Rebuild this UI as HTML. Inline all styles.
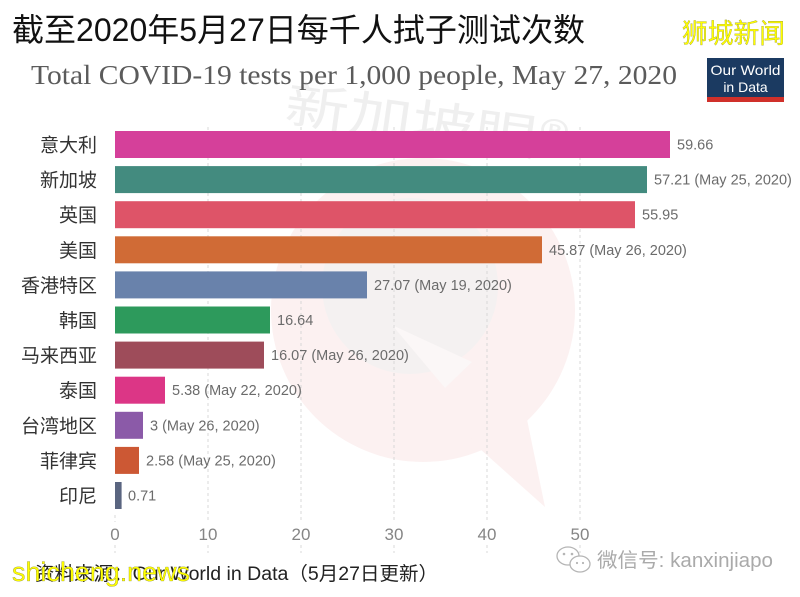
<!DOCTYPE html>
<html><head><meta charset="utf-8"><style>
html,body{margin:0;padding:0;background:#fff;}
svg{display:block;}
</style></head><body>
<svg width="800" height="597" viewBox="0 0 800 597" xmlns="http://www.w3.org/2000/svg">
<rect width="800" height="597" fill="#fff"/>
<!-- watermark -->
<g>
  <circle cx="423" cy="310" r="152" fill="#fcf1f1"/>
  <path d="M470,440 L545,507 L522,395 Z" fill="#fcf1f1"/>
  <circle cx="410" cy="286" r="88" fill="#f4f1f1"/>
  <path d="M392,325 L445,388 L472,362 Z" fill="#fbf7f7"/>
  <text x="285" y="140" font-family="'Noto Sans CJK SC',sans-serif" font-size="50" fill="#efefef" textLength="285" lengthAdjust="spacingAndGlyphs" transform="rotate(8 420 118)">新加坡眼®</text>
</g>
<!-- title -->
<text x="12" y="41" font-family="'Liberation Sans','Noto Sans CJK SC',sans-serif" font-size="32" fill="#111" textLength="573" lengthAdjust="spacingAndGlyphs">截至2020年5月27日每千人拭子测试次数</text>
<text x="682" y="43" font-family="'Noto Sans CJK SC',sans-serif" font-size="27" fill="#ffff00" stroke="#8a8a30" stroke-width="0.3" textLength="103" lengthAdjust="spacingAndGlyphs">狮城新闻</text>
<text x="31" y="84" font-family="'Liberation Serif',serif" font-size="27" fill="#5b5b5b" textLength="646" lengthAdjust="spacingAndGlyphs">Total COVID-19 tests per 1,000 people, May 27, 2020</text>
<!-- OWID logo -->
<rect x="707" y="58" width="77" height="44" fill="#1b3a61"/>
<rect x="707" y="97" width="77" height="5" fill="#d0302a"/>
<text x="745.5" y="75" text-anchor="middle" font-family="'Liberation Sans',sans-serif" font-size="14" fill="#fff" textLength="70" lengthAdjust="spacingAndGlyphs">Our World</text>
<text x="745.5" y="92" text-anchor="middle" font-family="'Liberation Sans',sans-serif" font-size="14" fill="#fff">in Data</text>
<!-- gridlines -->
<g stroke="#d8d8d8" stroke-width="1" stroke-dasharray="3,3">
  <line x1="115" y1="515" x2="115" y2="522"/><line x1="115" y1="545" x2="115" y2="553"/>
  <line x1="208" y1="127" x2="208" y2="522"/><line x1="208" y1="545" x2="208" y2="553"/>
  <line x1="301" y1="127" x2="301" y2="522"/><line x1="301" y1="545" x2="301" y2="553"/>
  <line x1="394" y1="127" x2="394" y2="522"/><line x1="394" y1="545" x2="394" y2="553"/>
  <line x1="487" y1="127" x2="487" y2="522"/><line x1="487" y1="545" x2="487" y2="553"/>
  <line x1="580" y1="127" x2="580" y2="522"/><line x1="580" y1="545" x2="580" y2="553"/>
</g>
<!-- bars -->
<g>
  <rect x="115" y="131" width="555" height="27" fill="#d5409a"/>
  <rect x="115" y="166.1" width="532" height="27" fill="#438b7f"/>
  <rect x="115" y="201.2" width="520" height="27" fill="#de5468"/>
  <rect x="115" y="236.3" width="427" height="27" fill="#d06b36"/>
  <rect x="115" y="271.4" width="252" height="27" fill="#6982ab"/>
  <rect x="115" y="306.5" width="155" height="27" fill="#2d9a5c"/>
  <rect x="115" y="341.6" width="149" height="27" fill="#9e4c5a"/>
  <rect x="115" y="376.7" width="50" height="27" fill="#dc3686"/>
  <rect x="115" y="411.8" width="28" height="27" fill="#8b5aa8"/>
  <rect x="115" y="446.9" width="24" height="27" fill="#cc5834"/>
  <rect x="115" y="482" width="6.6" height="27" fill="#5a6580"/>
</g>
<!-- category labels -->
<g font-family="'Liberation Sans','Noto Sans CJK SC',sans-serif" font-size="19" fill="#333" text-anchor="end">
  <text x="97" y="151.5">意大利</text>
  <text x="97" y="186.6">新加坡</text>
  <text x="97" y="221.7">英国</text>
  <text x="97" y="256.8">美国</text>
  <text x="97" y="291.9">香港特区</text>
  <text x="97" y="327">韩国</text>
  <text x="97" y="362.1">马来西亚</text>
  <text x="97" y="397.2">泰国</text>
  <text x="97" y="432.3">台湾地区</text>
  <text x="97" y="467.4">菲律宾</text>
  <text x="97" y="502.5">印尼</text>
</g>
<!-- values -->
<g font-family="'Liberation Sans',sans-serif" font-size="14.5" fill="#6b6b6b">
  <text x="677" y="149.5">59.66</text>
  <text x="654" y="184.6">57.21 (May 25, 2020)</text>
  <text x="642" y="219.7">55.95</text>
  <text x="549" y="254.8">45.87 (May 26, 2020)</text>
  <text x="374" y="289.9">27.07 (May 19, 2020)</text>
  <text x="277" y="325">16.64</text>
  <text x="271" y="360.1">16.07 (May 26, 2020)</text>
  <text x="172" y="395.2">5.38 (May 22, 2020)</text>
  <text x="150" y="430.3">3 (May 26, 2020)</text>
  <text x="146" y="465.4">2.58 (May 25, 2020)</text>
  <text x="128" y="500.5">0.71</text>
</g>
<!-- ticks -->
<g font-family="'Liberation Sans',sans-serif" font-size="17" fill="#858585" text-anchor="middle">
  <text x="115" y="540">0</text>
  <text x="208" y="540">10</text>
  <text x="301" y="540">20</text>
  <text x="394" y="540">30</text>
  <text x="487" y="540">40</text>
  <text x="580" y="540">50</text>
</g>
<!-- source -->
<text x="35" y="580" font-family="'Liberation Sans','Noto Sans CJK SC',sans-serif" font-size="19" fill="#222" textLength="403" lengthAdjust="spacingAndGlyphs">资料来源：Our World in Data（5月27日更新）</text>
<text x="12" y="581" font-family="'Liberation Sans',sans-serif" font-size="27" fill="#ffff00" stroke="#7a7a30" stroke-width="0.3" textLength="178" lengthAdjust="spacingAndGlyphs">shicheng.news</text>
<!-- wechat -->
<g fill="none" stroke="#b5b5b5" stroke-width="1.3">
  <ellipse cx="568" cy="556" rx="11" ry="9"/>
  <ellipse cx="580" cy="564" rx="10" ry="8" fill="#fff"/>
</g>
<g fill="#b5b5b5"><circle cx="564" cy="554" r="1.3"/><circle cx="572" cy="554" r="1.3"/><circle cx="577" cy="563" r="1.1"/><circle cx="583" cy="563" r="1.1"/></g>
<text x="597" y="567" font-family="'Liberation Sans','Noto Sans CJK SC',sans-serif" font-size="20" fill="#aaa" textLength="176" lengthAdjust="spacingAndGlyphs">微信号: kanxinjiapo</text>
</svg>
</body></html>
